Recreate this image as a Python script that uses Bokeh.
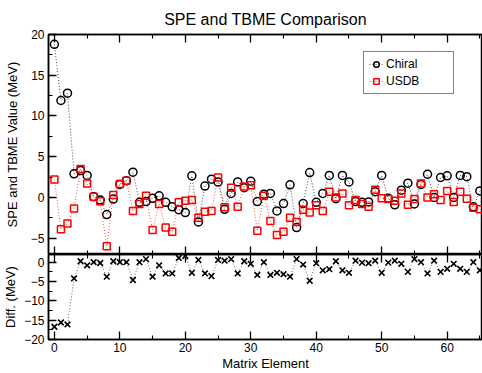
from bokeh.plotting import figure
from bokeh.models import FixedTicker, LinearAxis, Range1d, Legend, LegendItem
from bokeh.layouts import column
from bokeh.embed import file_html
from bokeh.resources import INLINE

element = list(range(66))
chiral = [18.8, 11.9, 12.8, 2.9, 3.3, 2.7, 0.1, -0.3, -2.1, -0.2,
          1.6, 2.05, 3.1, -0.6, -0.5, -0.1, 0.2, -0.6, -1.15, -1.5,
          -1.85, 2.65, -3.0, 1.4, 2.25, 1.9, -1.45, 0.5, 1.9, 1.2,
          2.0, -0.5, 0.4, 0.5, -1.65, -0.75, 1.55, -3.7, -0.75, 3.05,
          -0.6, 0.5, 2.7, -0.15, 2.7, 1.9, -0.5, -0.6, -0.55, 0.7,
          2.7, -0.1, -0.9, 0.9, 1.75, -0.8, 1.6, 2.85, 0.0, 2.45,
          2.65, 0.0, 2.7, 2.55, -1.15, 0.8]
usdb = [2.2, -3.9, -3.2, -1.35, 3.5, 1.7, 0.1, -0.45, -6.0, 0.3,
        1.65, 2.05, -1.65, -0.8, 0.2, -4.0, -0.8, -3.7, -4.2, -0.6,
        -0.4, -0.3, -2.5, -1.75, -1.65, 2.45, -1.2, 1.2, -1.15, 1.35,
        1.5, -4.1, 0.2, -2.9, -4.6, -4.2, -2.5, -3.0, -1.5, -1.85,
        -0.95, -1.65, 0.7, 0.0, 0.5, -0.95, -0.3, -0.8, -1.15, 0.95,
        -0.1, -0.2, -0.4, 0.5, -0.9, -0.2, 1.7, 0.0, 0.4, -0.3,
        0.8, -0.55, 0.7, -0.15, -1.25, -1.45]
diff = [-16.7, -15.6, -16.1, -4.2, 0.25, -0.8, 0.0, -0.2, -3.75, 0.25,
        0.0, 0.0, -4.6, 0.0, 0.8, -3.75, -0.8, -2.9, -2.9, 1.1,
        1.6, -2.75, 0.6, -2.9, -3.6, 0.6, 0.4, 0.8, -2.9, 0.25,
        -0.4, -3.3, 0.0, -3.3, -2.75, -3.1, -3.75, 0.8, -0.6, -4.8,
        -0.25, -2.1, -1.8, 0.25, -2.1, -2.75, 0.4, -0.1, -0.25, 0.4,
        -2.75, -0.1, 0.4, -0.4, -2.5, 0.8, 0.0, -2.9, 0.4, -2.5,
        -1.7, -0.4, -1.7, -2.5, 0.0, -2.1]

x_major = [0, 10, 20, 30, 40, 50, 60]
x_minor = [5, 15, 25, 35, 45, 55, 65]
top_major = [-5, 0, 5, 10, 15, 20]
top_minor = [-7.5, -2.5, 2.5, 7.5, 12.5, 17.5]
bot_major = [-20, -15, -10, -5, 0]
bot_minor = [-17.5, -12.5, -7.5, -2.5]

FONT = "Liberation Sans"
W = 482


def style_axis(ax, show_labels=True, label_standoff=3):
    ax.major_tick_in = 8
    ax.major_tick_out = 0
    ax.minor_tick_in = 4
    ax.minor_tick_out = 0
    ax.axis_line_color = "black"
    ax.axis_line_width = 1.5
    ax.major_tick_line_color = "black"
    ax.major_tick_line_width = 1.3
    ax.minor_tick_line_color = "black"
    ax.minor_tick_line_width = 1.1
    ax.major_label_text_font = FONT
    ax.axis_label_text_font = FONT
    ax.axis_label_text_font_style = "normal"
    ax.axis_label_text_font_size = "13px"
    ax.axis_label_text_color = "black"
    if show_labels:
        ax.major_label_text_color = "black"
        ax.major_label_text_font_size = "12px"
        ax.major_label_standoff = 4
        ax.axis_label_standoff = label_standoff
    else:
        ax.major_label_text_color = None
        ax.major_label_text_font_size = "1px"
        ax.major_label_standoff = 0
        ax.axis_label_standoff = 0


# ---------- top panel ----------
p1 = figure(width=W, height=254, x_range=Range1d(-0.9, 65.4), y_range=Range1d(-7, 20),
            output_backend="svg", toolbar_location=None,
            min_border_left=47, min_border_right=0, min_border_top=34, min_border_bottom=0)
p1.title.text = "SPE and TBME Comparison"
p1.title.align = "center"
p1.title.text_font = FONT
p1.title.text_font_size = "16px"
p1.title.text_font_style = "normal"
p1.title.text_color = "black"
p1.title.standoff = 13
p1.grid.visible = False
p1.outline_line_color = "black"
p1.outline_line_width = 1.5

p1.xaxis.ticker = FixedTicker(ticks=x_major, minor_ticks=x_minor)
p1.yaxis.ticker = FixedTicker(ticks=top_major, minor_ticks=top_minor)
style_axis(p1.xaxis[0], show_labels=False)
style_axis(p1.yaxis[0], label_standoff=8)
p1.yaxis.axis_label = "SPE and TBME Value (MeV)"
top_ax = LinearAxis(ticker=FixedTicker(ticks=x_major, minor_ticks=x_minor))
style_axis(top_ax, show_labels=False)
p1.add_layout(top_ax, "above")

l1 = p1.line(element, chiral, line_color="black", line_dash="1 2", line_width=1, line_alpha=0.7)
s1 = p1.scatter(element, chiral, marker="circle", size=8, line_color="black",
                line_width=1.5, fill_color=None)
l2 = p1.line(element, usdb, line_color="red", line_dash="1 2", line_width=1, line_alpha=0.7)
s2 = p1.scatter(element, usdb, marker="square", size=7, line_color="red",
                line_width=1.5, fill_color=None)

legend = Legend(items=[LegendItem(label="Chiral", renderers=[l1, s1]),
                       LegendItem(label="USDB", renderers=[l2, s2])],
                location=(315, 160))
legend.label_text_font = FONT
legend.label_text_font_size = "12px"
legend.label_text_color = "black"
legend.label_height = 14
legend.label_width = 62
legend.label_standoff = 3
legend.glyph_height = 14
legend.glyph_width = 14
legend.spacing = 3
legend.padding = 5
legend.margin = 0
legend.border_line_color = "black"
legend.border_line_width = 1
legend.background_fill_alpha = 1
p1.add_layout(legend, "center")

# ---------- bottom panel ----------
p2 = figure(width=W, height=119, x_range=p1.x_range, y_range=Range1d(-20, 2),
            output_backend="svg", toolbar_location=None,
            min_border_left=47, min_border_right=0, min_border_top=0, min_border_bottom=31)
p2.grid.visible = False
p2.outline_line_color = "black"
p2.outline_line_width = 1.5
p2.xaxis.ticker = FixedTicker(ticks=x_major, minor_ticks=x_minor)
p2.yaxis.ticker = FixedTicker(ticks=bot_major, minor_ticks=bot_minor)
style_axis(p2.xaxis[0], label_standoff=1)
p2.xaxis[0].major_label_standoff = 3
style_axis(p2.yaxis[0], label_standoff=3)
p2.xaxis.axis_label = "Matrix Element"
p2.yaxis.axis_label = "Diff. (MeV)"
top_ax2 = LinearAxis(ticker=FixedTicker(ticks=x_major, minor_ticks=x_minor))
style_axis(top_ax2, show_labels=False)
p2.add_layout(top_ax2, "above")

p2.line(element, diff, line_color="black", line_dash="1 2", line_width=1, line_alpha=0.6)
p2.scatter(element, diff, marker="x", size=8, line_color="black", line_width=1.6)

layout = column(p1, p2, spacing=0)
open("out.html", "w").write(file_html(layout, INLINE))
